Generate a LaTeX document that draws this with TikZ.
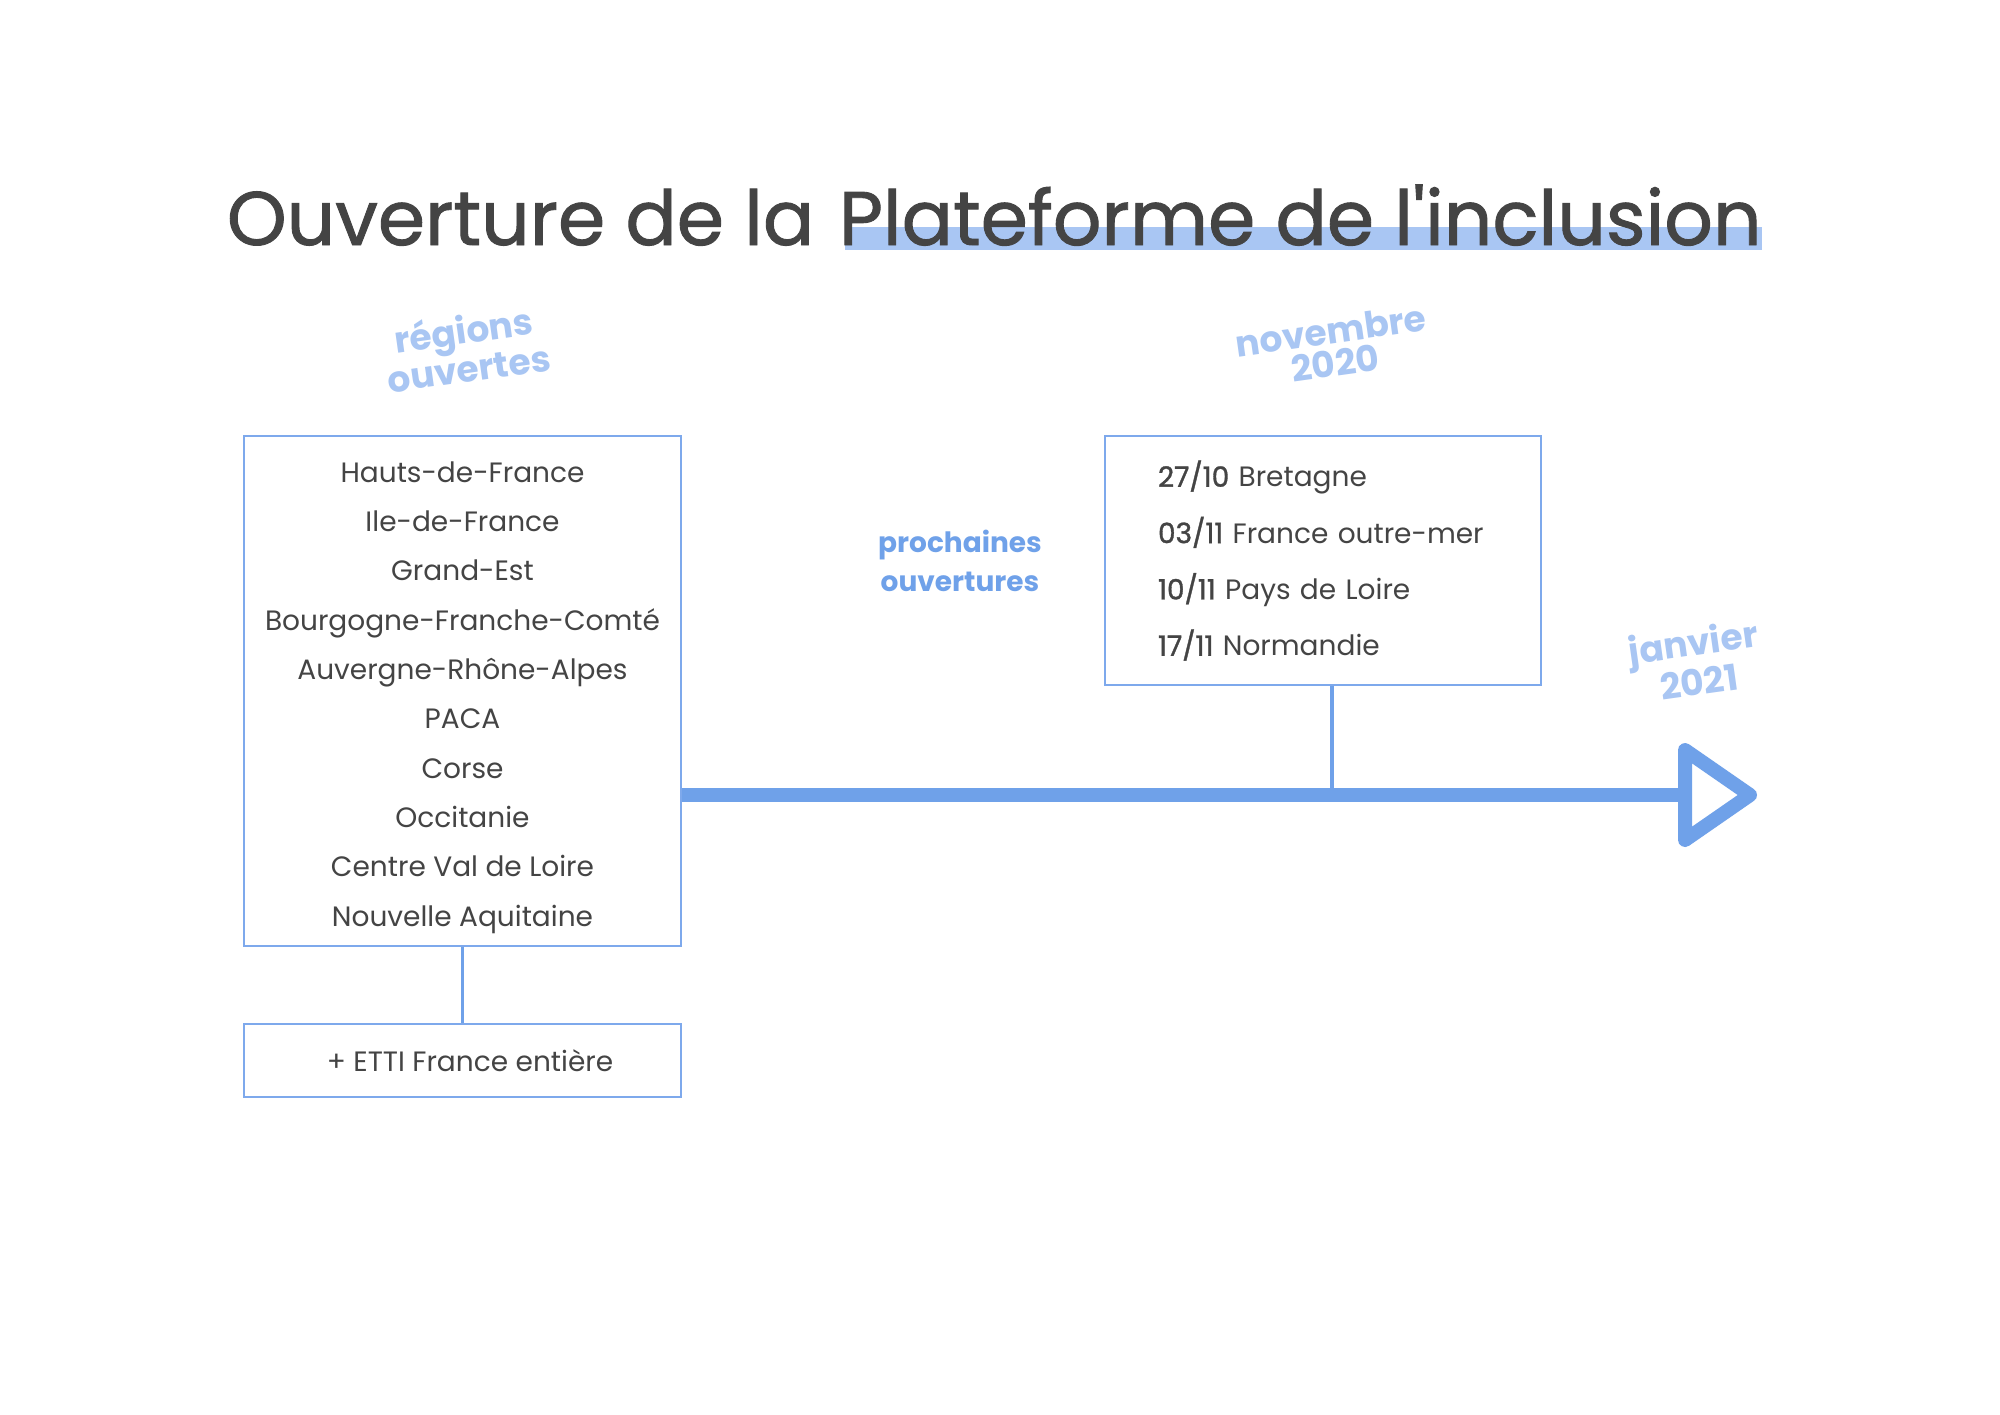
\documentclass[tikz,border=0pt]{standalone}
\usepackage{fontspec}
\setmainfont{Poppins}
\newfontfamily\demigras[FakeBold=1.2]{Poppins}
\usetikzlibrary{positioning}
\definecolor{gristexte}{HTML}{444444}
\definecolor{bleu}{HTML}{6FA1E9}
\definecolor{bleuclair}{HTML}{A9C6F3}
\definecolor{bleubord}{HTML}{7EA9EC}
\newcommand{\jour}[1]{{\demigras #1}}
\tikzset{
  boite/.style={draw=bleubord,line width=0.45pt,text=gristexte},
  etiquette/.style={text=bleuclair,font=\fontsize{10.8}{10}\selectfont\bfseries,align=center,rotate=8},
  liste/.style={font=\fontsize{8.4}{14.8}\selectfont},
  titrefont/.style={text=gristexte,font=\fontsize{22.8}{26}\demigras,inner sep=0pt},
}
\begin{document}
\begin{tikzpicture}[x=0.3pt,y=-0.3pt]
\fill[white] (0,0) rectangle (2000,1414);
\useasboundingbox (0,0) rectangle (2000,1414);
% titre
\node[titrefont,anchor=base east] (titre1) at (815,245) {Ouverture de la};
\node[titrefont,right=7pt of titre1.base east,anchor=base west] (titre2) {\phantom{Plateforme de l\textquotesingle inclusion}};
\fill[bleuclair] ([xshift=2pt,yshift=-1.5pt]titre2.base west) rectangle ([yshift=5.4pt]titre2.base east);
\node[titrefont,anchor=base west] (titre3) at (titre2.base west) {Plateforme de l\textquotesingle inclusion};
% etiquettes
\node[etiquette] (lblregions) at (466,348) {régions\\ouvertes};
\node[etiquette] (lblnov) at (1333,347) {novembre\\2020};
\node[etiquette] (lbljan) at (1696,661) {janvier\\2021};
\node[text=bleu,font=\fontsize{8.4}{11.9}\selectfont\bfseries,align=center] (prochaines) at (960,561) {prochaines\\ouvertures};
% boites
\node[boite,liste,minimum width=131.1pt,minimum height=153pt,align=center] (regions) at (462.5,691)
  {\rule{0pt}{10pt}Hauts-de-France\\Ile-de-France\\Grand-Est\\Bourgogne-Franche-Comté\\Auvergne-Rhône-Alpes\\PACA\\Corse\\Occitanie\\Centre Val de Loire\\Nouvelle Aquitaine};
\node[boite,liste,minimum width=131.1pt,minimum height=21.9pt] (etti) at (462.5,1060.5) {\hspace*{4.5pt}+ ETTI France entière};
\node[boite,font=\fontsize{8.4}{16.9}\selectfont,text width=99pt,inner xsep=15.9pt,minimum height=74.7pt,align=left] (dates) at (1323,560.5)
  {\jour{27/10} Bretagne\\\jour{03/11} France outre-mer\\\jour{10/11} Pays de Loire\\\jour{17/11} Normandie};
\draw[bleu,line width=0.9pt] (regions) -- (etti);
% frise
\coordinate (fin) at (1685,795);
\coordinate (jonction) at (1332,795);
\draw[bleu,line width=4.2pt] (regions.east |- fin) -- (fin);
\draw[bleu,line width=1.2pt] (dates.south -| jonction) -- (jonction);
\draw[bleu,line width=4.2pt,line join=round,fill=white] (1685,750) -- (1685,840) -- (1750,795) -- cycle;
\end{tikzpicture}
\end{document}
